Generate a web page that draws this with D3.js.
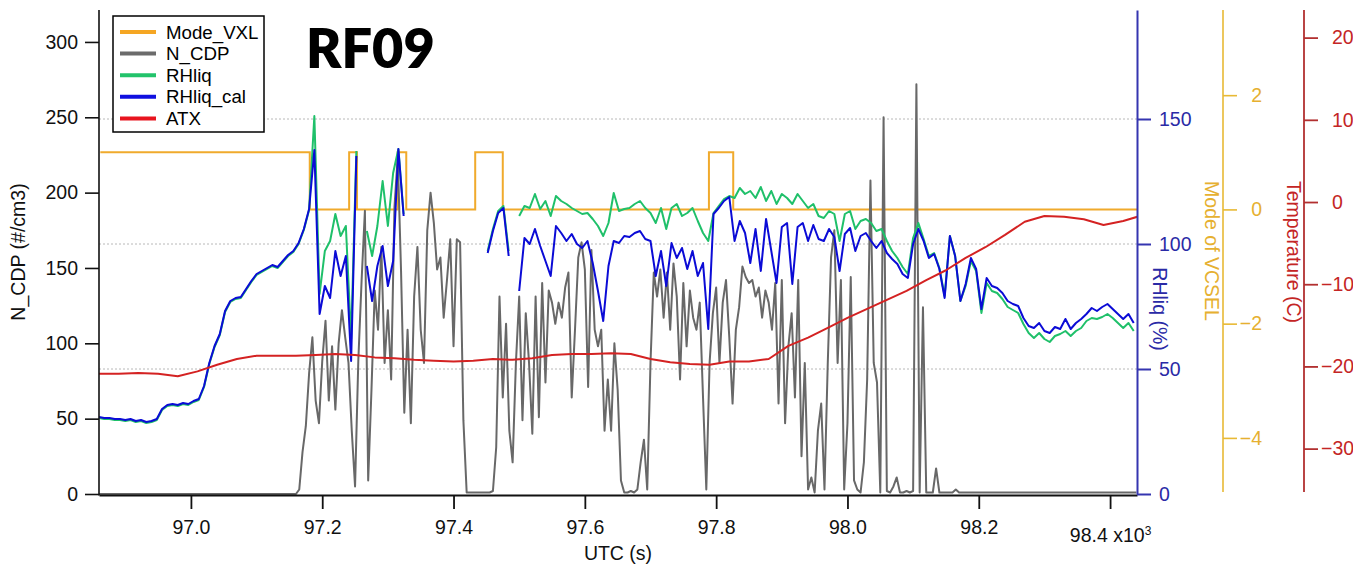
<!DOCTYPE html>
<html><head><meta charset="utf-8">
<script src="https://cdn.jsdelivr.net/npm/d3@7"></script>
<style>
body{margin:0;background:#fff}
svg{display:block;font-family:"Liberation Sans",Arial,sans-serif}
</style>
</head><body>
<svg id="c" width="1353" height="565"></svg>
<script>
// ---------------- DATA ----------------
const xTicks = [97000, 97200, 97400, 97600, 97800, 98000, 98200, 98400];
const cdpTicks = [0, 50, 100, 150, 200, 250, 300];
const rhTicks = [0, 50, 100, 150];
const modeTicks = [-4, -2, 0, 2];
const tempTicks = [-30, -20, -10, 0, 10, 20];

// Mode_VXL step series (time in s, value)
const modeTimes = [96862, 97181, 97241, 97253, 97315, 97328, 97433, 97475, 97789, 97826, 98441];
const modeVals  = [1, 0, 1, 0, 1, 0, 1, 0, 1, 0, 0];

// N_CDP, every 5 s from 96860
const cdpStart = 96860, cdpStep = 5;
const nCDP = [
0,0,0,0,0,0,0,0,0,0, 0,0,0,0,0,0,0,0,0,0, 0,0,0,0,0,0,0,0,0,0,
0,0,0,0,0,0,0,0,0,0, 0,0,0,0,0,0,0,0,0,0, 0,0,0,0,0,0,0,0,0,0,
0,3,28,45,80,104,62,47,88,115, 62,98,56,100,122,104,87,42,5,89,
142,188,9,69,135,109,164,87,122,76, 190,224,149,54,109,47,131,164,109,87,
175,200,180,149,157,117,142,169,98,169, 167,49,1,1,1,1,1,1,1,1,
2,31,131,64,113,42,21,87,131,49, 120,87,40,131,51,140,74,135,127,113,
127,117,137,147,64,109,157,167,149,71, 162,109,98,109,42,76,42,100,69,9,
1,1,2,1,3,21,36,3,87,147, 131,149,117,147,109,153,131,76,140,98,
135,117,109,127,64,3,87,120,137,87, 127,142,104,60,109,124,151,144,140,142,
131,137,117,135,127,109,140,60,142,47, 98,120,64,142,25,87,3,11,1,42,
60,3,87,157,175,87,142,3,47,144, 9,3,1,21,76,208,87,74,1,250,
2,1,5,11,1,1,2,1,2,272, 1,124,1,1,1,17,1,1,1,1,
1,3,1,1,1,1,1,1,1,1, 1,1,1,1,1,1,1,1,1,1,
1,1,1,1,1,1,1,1,1,1, 1,1,1,1,1,1,1,1,1,1,
1,1,1,1,1,1,1,1,1,1, 1,1,1,1,1,1,1
];

// RHliq and RHliq_cal, every 8 s from 96860 (null = no data)
const rhStart = 96860, rhStep = 8;
const rhLiqCal = [
30.8,30.4,30.4,30.0,30.0,29.6,30.0,29.2,29.6,28.8,
29.2,30.0,34.0,35.6,36.0,35.6,36.4,36.0,37.2,38.0,
43.2,52.4,59.2,64.0,73.2,77.2,78.4,78.8,82.0,85.2,
88.0,89.2,90.4,91.6,90.8,93.2,95.6,97.2,100.4,106.0,
114.0,137.6,72.0,83.2,78.4,97.2,87.2,95.2,53.2,135.2,
null,91.2,77.2,91.2,99.2,83.2,93.2,138.0,111.2,null,
null,null,null,null,null,null,null,null,null,null,
null,null,null,null,96.4,105.2,112.4,114.4,95.2,null,
81.2,102.4,100.0,106.0,99.2,93.2,87.2,107.2,104.4,101.2,
104.0,100.0,98.4,101.2,92.4,81.2,69.2,91.2,101.2,100.4,
103.2,102.8,104.4,105.2,102.0,101.2,87.2,97.2,83.2,100.4,
94.4,98.4,90.0,97.2,87.2,92.4,66.0,112.0,114.4,117.2,
118.8,101.2,109.2,104.4,92.4,106.0,89.2,110.0,97.2,84.4,
106.8,108.4,84.0,106.8,108.4,101.2,107.6,102.0,101.2,106.0,
102.8,89.2,104.0,106.4,97.2,103.2,104.4,101.2,98.4,101.2,
96.4,94.0,92.0,88.0,86.4,100.0,106.0,101.2,94.4,96.0,
90.0,78.4,103.2,95.2,77.2,84.0,94.4,90.0,74.0,86.4,
83.2,82.4,80.4,77.2,76.0,75.2,70.4,67.2,66.4,68.4,
65.2,64.4,66.8,66.0,70.0,66.0,68.4,70.0,72.0,74.4,
73.2,74.8,76.0,74.0,72.0,70.0,72.0,68.4
];
const rhLiq = [
30.4,30.0,30.0,29.6,29.6,29.2,29.6,28.8,29.2,28.4,
28.8,29.6,33.6,35.2,35.6,35.2,36.0,35.6,36.8,37.6,
42.8,52.0,58.8,63.6,72.8,76.8,78.0,78.4,81.6,84.8,
87.6,88.8,90.0,91.2,90.4,92.8,95.2,96.8,100.0,105.6,
113.6,151.2,80.0,97.2,101.2,112.0,103.2,107.2,62.0,137.2,
null,105.2,95.2,107.2,125.2,107.2,128.4,138.0,112.0,null,
null,null,null,null,null,null,null,null,null,null,
null,null,null,null,97.2,106.0,113.2,115.2,97.2,null,
111.2,115.2,114.4,120.0,114.0,117.2,111.2,119.2,117.2,116.0,
114.4,113.2,112.0,112.4,110.0,107.2,103.2,108.4,120.4,113.2,
114.0,114.4,116.0,117.2,114.4,112.4,108.4,114.4,106.0,114.4,
116.0,111.2,112.4,114.4,109.2,104.4,101.2,112.4,115.2,118.0,
119.2,118.4,122.4,120.0,121.2,118.4,122.8,117.2,121.2,116.0,
120.0,118.4,116.0,120.0,117.2,114.4,116.0,111.2,110.4,113.2,
112.0,101.2,112.0,113.2,106.0,109.2,110.0,108.4,105.2,106.0,
101.2,97.2,94.4,90.8,88.0,102.4,108.4,102.0,95.2,96.4,
90.4,79.2,103.2,95.2,77.2,83.2,93.2,89.2,72.4,84.4,
81.2,80.4,78.0,74.8,73.6,72.4,68.0,64.4,62.4,64.4,
62.0,60.8,63.2,64.0,65.2,63.2,65.2,66.4,69.2,70.4,
70.0,70.8,72.0,70.4,68.4,66.4,68.4,65.2
];

// ATX temperature, every 30 s from 96860
const atxStart = 96860, atxStep = 30;
const atx = [
-20.9,-20.9,-20.8,-20.9,-21.2,-20.6,-19.8,-19.1,-18.7,-18.7,
-18.7,-18.6,-18.5,-18.6,-18.9,-19.0,-19.2,-19.3,-19.4,-19.3,
-19.1,-19.2,-19.0,-18.6,-18.5,-18.5,-18.4,-18.5,-19.1,-19.5,
-19.7,-19.8,-19.4,-19.4,-19.1,-17.5,-16.5,-15.3,-14.1,-13.0,
-11.9,-10.8,-9.5,-8.3,-6.8,-5.5,-4.0,-2.4,-1.7,-1.8,
-2.1,-2.8,-2.3,-1.6
];

const legendNames  = ["Mode_VXL", "N_CDP", "RHliq", "RHliq_cal", "ATX"];
const legendColors = ["#f5a623", "#6b6b6b", "#22c36b", "#1010e0", "#e8141e"];

// ---------------- DRAW ----------------
const svg = d3.select("#c");
const L = 99, R = 1137, T = 10, B = 494;

const x = d3.scaleLinear().domain([96860, 98441]).range([L, R]);
const yCDP = d3.scaleLinear().domain([0, 321.2]).range([B, T]);
const yRH = d3.scaleLinear().domain([0, 193.6]).range([B, T]);
const yMode = d3.scaleLinear().domain([-4.982, 3.491]).range([B, T]);
const yT = d3.scaleLinear().domain([-35.52, 23.36]).range([B, T]);

svg.append("clipPath").attr("id", "clip").append("rect")
  .attr("x", L).attr("y", T - 2).attr("width", R - L).attr("height", B - T + 3);

// grid (RH axis)
svg.append("g").selectAll("line").data([50, 100, 150]).join("line")
  .attr("x1", L).attr("x2", R).attr("y1", d => yRH(d)).attr("y2", d => yRH(d))
  .attr("stroke", "#b8b8b8").attr("stroke-width", 1).attr("stroke-dasharray", "2,2");

const plot = svg.append("g").attr("clip-path", "url(#clip)");

const modeData = modeTimes.map((t, i) => ({t, v: modeVals[i]}));
const cdpData = nCDP.map((v, i) => ({t: cdpStart + i * cdpStep, v}));
const liqData = rhLiq.map((v, i) => ({t: rhStart + i * rhStep, v}));
const calData = rhLiqCal.map((v, i) => ({t: rhStart + i * rhStep, v}));
const atxData = atx.map((v, i) => ({t: atxStart + i * atxStep, v}));

function mk(ys, curve) {
  const g = d3.line().defined(d => d.v != null).x(d => x(d.t)).y(d => ys(d.v));
  if (curve) g.curve(curve);
  return g;
}
plot.append("path").datum(modeData).attr("d", mk(yMode, d3.curveStepAfter))
  .attr("fill", "none").attr("stroke", "#f0aa2c").attr("stroke-width", 2);
plot.append("path").datum(cdpData).attr("d", mk(yCDP))
  .attr("fill", "none").attr("stroke", "#686868").attr("stroke-width", 2).attr("stroke-linejoin", "round");
plot.append("path").datum(liqData).attr("d", mk(yRH))
  .attr("fill", "none").attr("stroke", "#1fc06a").attr("stroke-width", 2).attr("stroke-linejoin", "round");
plot.append("path").datum(calData).attr("d", mk(yRH))
  .attr("fill", "none").attr("stroke", "#0b0bd6").attr("stroke-width", 2).attr("stroke-linejoin", "round");
plot.append("path").datum(atxData).attr("d", mk(yT))
  .attr("fill", "none").attr("stroke", "#d42222").attr("stroke-width", 2).attr("stroke-linejoin", "round");

const FS = "19.5px";
function styleAxis(g, color, width) {
  g.select(".domain").attr("stroke", color).attr("stroke-width", width);
  g.selectAll(".tick line").attr("stroke", color).attr("stroke-width", width);
  g.selectAll(".tick text").attr("fill", color).style("font-size", FS)
   .style("font-family", '"Liberation Sans",Arial,sans-serif');
}

// Left axis
const gL = svg.append("g").attr("transform", `translate(${L},0)`)
  .call(d3.axisLeft(yCDP).tickValues(cdpTicks).tickSize(14).tickSizeOuter(0).tickPadding(7));
styleAxis(gL, "#111", 1.6);
gL.select(".domain").attr("d", `M0,${T}V${B + 1.5}`);

// Bottom axis
const gB = svg.append("g").attr("transform", `translate(0,${B + 1})`)
  .call(d3.axisBottom(x).tickValues(xTicks).tickFormat(d => (d / 1000).toFixed(1))
    .tickSize(14).tickSizeOuter(0).tickPadding(11));
styleAxis(gB, "#111", 1.8);
gB.selectAll(".tick").filter(d => d === 98400).select("text")
  .attr("y", 33).text("98.4 x10")
  .append("tspan").attr("dy", "-0.6em").style("font-size", "12px").text("3");

// Right axis: RHliq (blue)
const gRH = svg.append("g").attr("transform", `translate(${R},0)`)
  .call(d3.axisRight(yRH).tickValues(rhTicks).tickSize(14).tickSizeOuter(0).tickPadding(8));
styleAxis(gRH, "#3535b0", 2);
gRH.selectAll(".tick text").attr("fill", "#2a2aa6");

// Mode axis (orange)
const gM = svg.append("g").attr("transform", "translate(1223,0)")
  .call(d3.axisRight(yMode).tickValues(modeTicks).tickSize(14).tickSizeOuter(0).tickPadding(8));
styleAxis(gM, "#e8b935", 1.6);
gM.selectAll(".tick text").attr("text-anchor", "end").attr("x", 39).attr("fill", "#e6b030");
gM.select(".domain").attr("d", `M0,${T}V${B - 2}`);

// Temperature axis (red)
const gTm = svg.append("g").attr("transform", "translate(1304,0)")
  .call(d3.axisRight(yT).tickValues(tempTicks).tickSize(14).tickSizeOuter(0).tickPadding(14)
    .tickFormat(d => d < 0 ? "\u2212" + Math.abs(d) : String(d)));
styleAxis(gTm, "#b23030", 1.8);
gTm.selectAll(".tick text").attr("fill", "#c42525").attr("x", d => d < 0 ? 17 : 28);
gTm.select(".domain").attr("d", `M0,${T}V${B - 2}`);

// Axis titles
svg.append("text").attr("transform", "translate(25,252) rotate(-90)")
  .attr("text-anchor", "middle").style("font-size", FS).attr("fill", "#111").text("N_CDP (#/cm3)");
svg.append("text").attr("x", 618).attr("y", 560)
  .attr("text-anchor", "middle").style("font-size", FS).attr("fill", "#111").text("UTC (s)");
svg.append("text").attr("transform", "translate(1153,309) rotate(90)")
  .attr("text-anchor", "middle").style("font-size", FS).attr("fill", "#2a2aa6").text("RHliq (%)");
svg.append("text").attr("transform", "translate(1205,251) rotate(90)")
  .attr("text-anchor", "middle").style("font-size", FS).attr("fill", "#e6b030").text("Mode of VCSEL");
svg.append("text").attr("transform", "translate(1287,252) rotate(90)")
  .attr("text-anchor", "middle").style("font-size", FS).attr("fill", "#c42525").text("Temperature (C)");

// Legend
const lg = svg.append("g");
lg.append("rect").attr("x", 113).attr("y", 16).attr("width", 151).attr("height", 116)
  .attr("fill", "#fff").attr("stroke", "#000").attr("stroke-width", 1.5);
legendNames.forEach((n, i) => {
  const by = 38.5 + i * 21.6;
  lg.append("line").attr("x1", 120).attr("x2", 156).attr("y1", by - 6.5).attr("y2", by - 6.5)
    .attr("stroke", legendColors[i]).attr("stroke-width", 4);
  lg.append("text").attr("x", 166).attr("y", by).style("font-size", "18.7px").attr("fill", "#000").text(n);
});

// Title
svg.append("text").attr("x", 306).attr("y", 68)
  .style("font-family", "Lato, 'Open Sans', sans-serif").style("font-weight", 800)
  .style("font-size", "54px").attr("fill", "#000").text("RF09");
</script>
</body></html>
